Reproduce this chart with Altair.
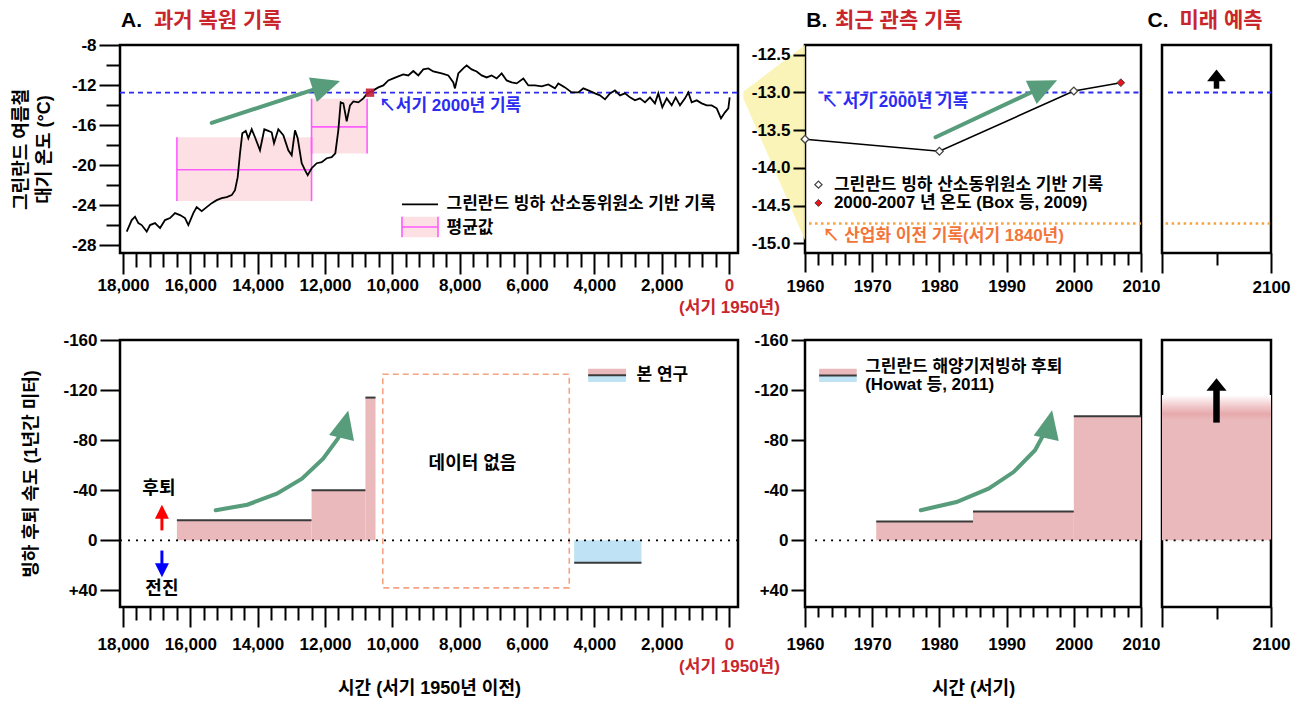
import altair as alt
import pandas as pd

FONT = "Liberation Sans, Noto Sans CJK KR"
RED = "#c8262c"
GREEN = "#579c7b"
PINK_LIGHT = "#fde0e3"
MAGENTA = "#ff5cff"
PINK = "#eab9bb"
SKY = "#bfe3f4"
BLUE = "#2b2bf2"
ORANGE = "#f9a23c"
ORANGE_TEXT = "#f2753a"
YELLOW = "#faf2ab"
SALMON = "#f6a383"

# ---------------- Panel A (top): Greenland summer temperature, years BP ----------------
temp_year = [17890, 17742, 17644, 17545, 17446, 17296, 17198, 17050, 16900, 16753, 16604,
             16456, 16307, 16159, 16060, 15912, 15812, 15663, 15514, 15366, 15217, 15069,
             14920, 14772, 14674, 14594, 14525, 14457, 14355, 14278, 14178, 14080, 13932,
             13803, 13685, 13585, 13515, 13387, 13239, 13090, 12990, 12892, 12812, 12693,
             12595, 12515, 12396, 12247, 12099, 11950, 11802, 11694, 11605, 11535, 11455,
             11356, 11258, 11158, 11010, 10862, 10743, 10614, 10416, 10268, 10120, 9972,
             9824, 9675, 9527, 9378, 9229, 9081, 8932, 8784, 8535, 8337, 8189, 8140, 8041,
             7893, 7793, 7644, 7496, 7347, 7199, 7050, 6901, 6753, 6604, 6456, 6307, 6109,
             5961, 5763, 5565, 5367, 5170, 5070, 4872, 4674, 4476, 4327, 4180, 3980, 3833,
             3684, 3536, 3387, 3239, 3090, 2942, 2793, 2645, 2496, 2348, 2200, 2100, 1981,
             1850, 1703, 1584, 1456, 1307, 1208, 1109, 960, 811, 663, 514, 366, 238, 119,
             20, -20]
temp_c = [-26.66, -25.5, -25.16, -25.8, -26.0, -26.66, -26.0, -25.8, -26.3, -25.5, -25.3,
          -24.8, -25.0, -25.3, -26.0, -24.8, -24.2, -24.6, -24.2, -23.8, -23.5, -23.3,
          -23.2, -23.0, -22.5, -21.2, -18.8, -16.8, -16.56, -17.3, -16.4, -17.2, -18.5,
          -16.4, -16.56, -16.7, -17.8, -16.4, -17.0, -18.5, -19.0, -16.5, -17.3, -19.8,
          -20.5, -21.0, -20.3, -19.8, -19.7, -19.3, -19.2, -18.8, -16.5, -13.7, -13.8,
          -15.6, -14.0, -13.6, -13.7, -13.3, -12.8, -12.6, -12.2, -12.0, -11.5, -11.3,
          -11.1, -10.9, -11.0, -10.56, -11.0, -10.4, -10.3, -10.6, -10.8, -11.0, -11.7, -12.3, -10.8,
          -10.3, -10.0, -10.4, -10.6, -11.0, -11.2, -11.0, -11.3, -10.8, -11.5, -11.7, -11.8, -11.3,
          -12.0, -12.0, -12.1, -11.9, -12.3, -11.8, -12.2, -12.7, -12.7, -12.3, -12.5, -12.8, -13.0,
          -13.4, -12.8, -12.5, -13.0, -12.8, -13.2, -13.5, -13.3, -13.7, -13.2, -13.8, -12.8, -14.2,
          -13.3, -14.0, -13.2, -14.0, -13.3, -12.7, -13.7, -13.5, -13.8, -14.0, -14.0, -14.3, -15.3, -14.7,
          -14.3, -13.2]

box_start = [16400, 12400]
box_end = [12400, 10750]
box_high = [-17.2, -13.33]
box_low = [-23.6, -18.83]
box_mean = [-20.46, -16.16]
record_2000_a = [-12.73]
marker_year = [10664]

# ---------------- Panel B (top): recent observations ----------------
obs_year = [1960, 1980, 2000]
obs_temp = [-13.62, -13.78, -12.98]
box09_year = [2007]
box09_temp = [-12.87]
record_2000_b = [-13.0]
preindustrial = [-14.74]
conn_year = [1950.83, 1960]
conn_top = [-12.987, -12.37]
conn_bottom = [-13.08, -14.96]

# ---------------- Panel A (bottom): retreat rates, m/yr (negative = retreat) ----------------
ret_start = [16400, 12400, 10800]
ret_end = [12400, 10800, 10500]
ret_rate = [-16, -40, -114]
adv_start = [4600]
adv_end = [2600]
adv_rate = [18]
nodata_x = [10284]
nodata_x2 = [4745]
nodata_y = [-132.6]
nodata_y2 = [38]

# ---------------- Panel B (bottom): Howat et al. 2011 ----------------
how_start = [1970.6, 1985, 2000]
how_end = [1985, 2000, 2010]
how_rate = [-15, -23, -99]

# ---------------- Panel C (bottom): projection ----------------
future_rate = [-116]

# scales (one object per panel so each panel knows its axes)
def sc(dom, rev=False):
    return alt.Scale(domain=dom, zero=False, nice=False, reverse=rev)

SX_AT = sc([18090, -267]); SY_AT = sc([-28.8, -7.95])
SX_AB = sc([18090, -267]); SY_AB = sc([-160, 53.3], True)
SX_BT = sc([1960, 2010]); SY_BT = sc([-15.13, -12.37])
SX_BB = sc([1960, 2010]); SY_BB = sc([-160, 53.3], True)
SX_CT = sc([2010, 2100]); SY_CT = sc([-15.13, -12.37])
SX_CB = sc([2010, 2100]); SY_CB = sc([-160, 53.3], True)

W_A, W_B, W_C = 618, 336, 109
H_T, H_B = 208, 267
TITLE_SIZE = 21

HEAD = "M1,0L-1,-0.9L-1,0.9Z"
UPHEAD = "M0,-1L1.6,1L-1.6,1Z"


def common(**kw):
    d = dict(domain=False, grid=False, tickColor="black", tickWidth=2,
             labelFont=FONT, labelFontSize=17, labelFontWeight="bold",
             labelPadding=3, labelOverlap=False, labelFlush=False,
             titleFont=FONT, titleFontSize=17, titleFontWeight="bold", titleColor="black")
    d.update(kw)
    if "labelColor" not in d:
        d["labelColor"] = "black"
    return alt.Axis(**d)


AXES = {}
LBL_A = "datum.value === 0 ? ['0', '(서기 1950년)'] : (datum.value % 2000 === 0 ? format(datum.value, ',') : '')"
AXES[id(SX_AT)] = common(
    values=list(range(0, 18001, 400)), labelExpr=LBL_A,
    tickSize={"condition": {"test": "datum.value % 2000 === 0", "value": 21}, "value": 14},
    labelColor={"condition": {"test": "datum.value === 0", "value": RED}, "value": "black"},
    labelLineHeight=22, title=None)
AXES[id(SX_AB)] = common(
    values=list(range(0, 18001, 400)), labelExpr=LBL_A,
    tickSize={"condition": {"test": "datum.value % 2000 === 0", "value": 20}, "value": 13},
    labelColor={"condition": {"test": "datum.value === 0", "value": RED}, "value": "black"},
    labelLineHeight=22, labelPadding=9, title="시간 (서기 1950년 이전)", titlePadding=10,
    minExtent=62, maxExtent=62, titleFontSize=18)
AXES[id(SY_AT)] = common(
    values=list(range(-28, -7, 2)),
    labelExpr="datum.value % 4 === 0 ? '' + datum.value : ''",
    tickSize={"condition": {"test": "datum.value % 4 === 0", "value": 21}, "value": 14},
    title=["그린란드 여름철", "대기 온도 (°C)"], titleLineHeight=23, titlePadding=17,
    minExtent=50, maxExtent=50, titleFontSize=18)
AXES[id(SY_AB)] = common(
    values=[-160, -120, -80, -40, 0, 40],
    labelExpr="datum.value > 0 ? '+' + datum.value : '' + datum.value",
    tickSize=20, title="빙하 후퇴 속도 (1년간 미터)", titlePadding=30,
    minExtent=50, maxExtent=50, titleFontSize=18)
LBL_B = "datum.value % 10 === 0 ? '' + datum.value : ''"
AXES[id(SX_BT)] = common(
    values=list(range(1960, 2011, 2)), labelExpr=LBL_B, labelPadding=6,
    tickSize={"condition": {"test": "datum.value % 10 === 0", "value": 19}, "value": 12},
    title=None)
AXES[id(SX_BB)] = common(
    values=list(range(1960, 2011, 2)), labelExpr=LBL_B, labelPadding=9,
    tickSize={"condition": {"test": "datum.value % 10 === 0", "value": 20}, "value": 10},
    title="시간 (서기)", titlePadding=10, minExtent=62, maxExtent=62, titleFontSize=18)
AXES[id(SY_BT)] = common(
    values=[-15.0, -14.5, -14.0, -13.5, -13.0, -12.5],
    labelExpr="datum.value % 1 === 0 ? datum.value + '.0' : '' + datum.value",
    tickSize=12, title=None, zindex=1)
AXES[id(SY_BB)] = common(
    values=[-160, -120, -80, -40, 0, 40],
    labelExpr="datum.value > 0 ? '+' + datum.value : '' + datum.value",
    tickSize=14, title=None, zindex=1)
AXES[id(SX_CT)] = common(
    values=[2010, 2055, 2100], labelPadding=6,
    labelExpr="datum.value === 2100 ? '2100' : ''",
    tickSize={"condition": {"test": "datum.value === 2055", "value": 12}, "value": 20},
    title=None)
AXES[id(SX_CB)] = common(
    values=[2010, 2055, 2100], labelPadding=9,
    labelExpr="datum.value === 2100 ? '2100' : ''",
    tickSize={"condition": {"test": "datum.value === 2055", "value": 12}, "value": 20},
    title=None)
AXES[id(SY_CT)] = None
AXES[id(SY_CB)] = None


def ch(data, sx, sy, xf="x", yf="y"):
    return alt.Chart(pd.DataFrame(data)).encode(
        x=alt.X(f"{xf}:Q", scale=sx, axis=AXES[id(sx)]),
        y=alt.Y(f"{yf}:Q", scale=sy, axis=AXES[id(sy)]))


def texts(xs, ys, ts, sx, sy, color="black", size=17, align="left"):
    return ch({"x": xs, "y": ys, "t": ts}, sx, sy).mark_text(
        align=align, baseline="middle", font=FONT, fontSize=size,
        fontWeight="bold", color=color).encode(text="t:N")


def hline(x1, x2, y, sx, sy, color, width, dash=None):
    kw = dict(color=color, strokeWidth=width)
    if dash:
        kw["strokeDash"] = dash
    return ch({"x": x1, "x2": x2, "y": y}, sx, sy).mark_rule(**kw).encode(x2="x2:Q")


def vline(x, y1, y2, sx, sy, color, width):
    return ch({"x": x, "y": y1, "y2": y2}, sx, sy).mark_rule(
        color=color, strokeWidth=width).encode(y2="y2:Q")


def rects(x1, x2, y1, y2, sx, sy, **kw):
    return ch({"x": x1, "x2": x2, "y": y1, "y2": y2}, sx, sy).mark_rect(**kw).encode(
        x2="x2:Q", y2="y2:Q")


def path(xs, ys, sx, sy, color, width):
    return ch({"x": xs, "y": ys, "o": list(range(len(xs)))}, sx, sy).mark_line(
        color=color, strokeWidth=width, strokeCap="round").encode(order="o:Q")


def head(x, y, ang, sx, sy, color, size, shape=HEAD):
    return ch({"x": [x], "y": [y], "a": [ang]}, sx, sy).mark_point(
        shape=shape, filled=True, size=size, color=color, opacity=1, strokeWidth=0
    ).encode(angle=alt.Angle("a:Q", scale=None))


# ---------------- Panel A top ----------------
sx, sy = SX_AT, SY_AT
A_top = alt.layer(
    rects(box_start, box_end, box_high, box_low, sx, sy, color=PINK_LIGHT),
    hline(box_start, box_end, box_mean, sx, sy, MAGENTA, 1.6),
    vline(box_start + box_end, box_high + box_high, box_low + box_low, sx, sy, MAGENTA, 1.6),
    hline([18090], [-267], record_2000_a, sx, sy, BLUE, 1.8, [5, 4]),
    ch({"x": temp_year, "y": temp_c}, sx, sy).mark_line(color="black", strokeWidth=1.8),
    ch({"x": marker_year, "y": record_2000_a}, sx, sy).mark_point(
        shape="square", filled=True, size=70, color="#c41e3a", opacity=0.9),
    path([15366, 11956], [-15.76, -12.0], sx, sy, GREEN, 4),
    head(11956, -12.0, 342, sx, sy, GREEN, 812),
    texts([10403], [-14.1], ["↖서기 2000년 기록"], sx, sy, BLUE, 17),
    rects([9714], [8644], [-25.16], [-27.23], sx, sy, color=PINK_LIGHT),
    hline([9714], [8644], [-26.2], sx, sy, MAGENTA, 1.6),
    vline([9714, 8644], [-25.16, -25.16], [-27.23, -27.23], sx, sy, MAGENTA, 1.6),
    hline([9714], [8644], [-23.93], sx, sy, "black", 1.6),
    texts([8392, 8392], [-23.93, -26.26], ["그린란드 빙하 산소동위원소 기반 기록", "평균값"],
          sx, sy, "black", 17),
    texts([18059], [-5.58], ["A."], sx, sy, "black", TITLE_SIZE),
    texts([17079], [-5.58], ["과거 복원 기록"], sx, sy, RED, TITLE_SIZE),
).properties(width=W_A, height=H_T)

# ---------------- Panel B top ----------------
sx, sy = SX_BT, SY_BT
B_top = alt.layer(
    ch({"x": conn_year, "y": conn_top, "y2": conn_bottom}, sx, sy).mark_area(
        color=YELLOW, opacity=0.85).encode(y2="y2:Q"),
    hline([1962], [2010], record_2000_b, sx, sy, BLUE, 1.8, [5, 4]),
    hline([1960.6], [2010], preindustrial, sx, sy, ORANGE, 2.5, [2.5, 3.5]),
    ch({"x": obs_year + box09_year, "y": obs_temp + box09_temp}, sx, sy).mark_line(
        color="black", strokeWidth=1.6),
    path([1979.42, 1995.59], [-13.594, -12.918], sx, sy, GREEN, 4),
    head(1995.59, -12.918, 335, sx, sy, GREEN, 812),
    ch({"x": obs_year, "y": obs_temp}, sx, sy).mark_point(
        shape="diamond", filled=True, fill="white", stroke="#444", strokeWidth=1.3, size=60, opacity=1),
    ch({"x": box09_year, "y": box09_temp}, sx, sy).mark_point(
        shape="diamond", filled=True, fill="#e8141b", stroke="#444", strokeWidth=1.0, size=60, opacity=1),
    ch({"x": [1962.0], "y": [-14.223]}, sx, sy).mark_point(
        shape="diamond", filled=True, fill="white", stroke="#444", strokeWidth=1.3, size=50, opacity=1),
    ch({"x": [1962.0], "y": [-14.466]}, sx, sy).mark_point(
        shape="diamond", filled=True, fill="#e8141b", stroke="#444", strokeWidth=1.0, size=50, opacity=1),
    texts([1964.3, 1964.3], [-14.223, -14.466],
          ["그린란드 빙하 산소동위원소 기반 기록", "2000-2007 년 온도 (Box 등, 2009)"],
          sx, sy, "black", 17),
    texts([1962.4], [-13.13], ["↖ 서기 2000년 기록"], sx, sy, BLUE, 17),
    texts([1962.6], [-14.908], ["↖ 산업화 이전 기록(서기 1840년)"], sx, sy, ORANGE_TEXT, 17),
    texts([1960.2], [-12.045], ["B."], sx, sy, "black", TITLE_SIZE),
    texts([1964.48], [-12.045], ["최근 관측 기록"], sx, sy, RED, TITLE_SIZE),
).properties(width=W_B, height=H_T)

# ---------------- Panel C top ----------------
sx, sy = SX_CT, SY_CT
C_top = alt.layer(
    hline([2015], [2100], record_2000_b, sx, sy, BLUE, 1.8, [5, 4]),
    hline([2013], [2100], preindustrial, sx, sy, ORANGE, 2.5, [2.5, 3.5]),
    ch({"x": [2055, 2055], "y": [-12.95, -12.78]}, sx, sy).mark_line(color="black", strokeWidth=5.5),
    head(2055, -12.774, 0, sx, sy, "black", 137, UPHEAD),
    texts([1998.0], [-12.045], ["C."], sx, sy, "black", TITLE_SIZE),
    texts([2024.45], [-12.045], ["미래 예측"], sx, sy, RED, TITLE_SIZE),
).properties(width=W_C, height=H_T)

# ---------------- Panel A bottom ----------------
sx, sy = SX_AB, SY_AB
A_bot = alt.layer(
    rects(ret_start, ret_end, [0, 0, 0], ret_rate, sx, sy, color=PINK),
    rects(adv_start, adv_end, [0], adv_rate, sx, sy, color=SKY),
    hline(ret_start + adv_start, ret_end + adv_end, ret_rate + adv_rate, sx, sy, "#3a3a3a", 2),
    rects(nodata_x, nodata_x2, nodata_y, nodata_y2, sx, sy,
          fillOpacity=0, stroke=SALMON, strokeWidth=1.6, strokeDash=[6, 4]),
    hline([18090], [-267], [0], sx, sy, "black", 1.8, [2, 6]),
    path([15247, 14308, 13432, 12684, 12057, 11620, 11410],
         [-23.95, -28.4, -37.2, -49.2, -65.2, -81.1, -92.7], sx, sy, GREEN, 4),
    head(11410, -92.7, 283.65, sx, sy, GREEN, 812),
    texts([7620], [-61.2], ["데이터 없음"], sx, sy, "black", 18, "center"),
    texts([16934], [-41.2], ["후퇴"], sx, sy, "black", 18, "center"),
    texts([16845], [38.7], ["전진"], sx, sy, "black", 18, "center"),
    ch({"x": [16845, 16845], "y": [-7.9, -22.8]}, sx, sy).mark_line(color="#ff0000", strokeWidth=3),
    head(16845, -22.8, 0, sx, sy, "#ff0000", 196, "M0,-1L1,1L-1,1Z"),
    ch({"x": [16845, 16845], "y": [8.2, 24.0]}, sx, sy).mark_line(color="#0000ff", strokeWidth=3),
    head(16845, 24.0, 180, sx, sy, "#0000ff", 196, "M0,-1L1,1L-1,1Z"),
    rects([4184], [3058], [-137.1], [-131.8], sx, sy, color=PINK),
    rects([4184], [3058], [-131.8], [-126.4], sx, sy, color=SKY),
    hline([4184], [3058], [-131.8], sx, sy, "#3a3a3a", 2),
    texts([2746], [-131.8], ["본 연구"], sx, sy, "black", 17),
).properties(width=W_A, height=H_B)

# ---------------- Panel B bottom ----------------
sx, sy = SX_BB, SY_BB
B_bot = alt.layer(
    rects(how_start, how_end, [0, 0, 0], how_rate, sx, sy, color=PINK),
    hline(how_start, how_end, how_rate, sx, sy, "#3a3a3a", 2),
    hline([1961.5], [2010], [0], sx, sy, "black", 1.8, [2, 6]),
    path([1977.23, 1982.54, 1987.31, 1991.03, 1994.23, 1996.33],
         [-23.95, -30.6, -41.2, -54.5, -71.9, -92.65], sx, sy, GREEN, 4),
    head(1996.33, -92.65, 281.9, sx, sy, GREEN, 812),
    rects([1962.1], [1967.7], [-137.1], [-131.6], sx, sy, color=PINK),
    rects([1962.1], [1967.7], [-131.6], [-126.4], sx, sy, color=SKY),
    hline([1962.1], [1967.7], [-131.6], sx, sy, "#3a3a3a", 2),
    texts([1968.95, 1968.95], [-138.4, -124.05], ["그린란드 해양기저빙하 후퇴", "(Howat 등, 2011)"],
          sx, sy, "black", 17),
).properties(width=W_B, height=H_B)

# ---------------- Panel C bottom ----------------
sx, sy = SX_CB, SY_CB
grad = {"gradient": "linear", "x1": 0, "y1": 1, "x2": 0, "y2": 0,
        "stops": [{"offset": 0, "color": PINK}, {"offset": 0.83, "color": PINK},
                  {"offset": 0.87, "color": "#e6a9ac"}, {"offset": 0.93, "color": "#f2cdcf"},
                  {"offset": 1, "color": "#ffffff"}]}
C_bot = alt.layer(
    rects([2010], [2100], [0], future_rate, sx, sy, color=grad),
    hline([2013], [2100], [0], sx, sy, "black", 1.8, [2, 6]),
    ch({"x": [2055, 2055], "y": [-94, -124]}, sx, sy).mark_line(color="black", strokeWidth=6.5),
    head(2055, -124.4, 0, sx, sy, "black", 159, UPHEAD),
).properties(width=W_C, height=H_B)

colA = alt.vconcat(A_top, A_bot, spacing=87, bounds="flush")
colB = alt.vconcat(B_top, B_bot, spacing=87, bounds="flush")
colC = alt.vconcat(C_top, C_bot, spacing=87, bounds="flush")

chart = alt.hconcat(colA, alt.hconcat(colB, colC, spacing=-20.5), spacing=-39).properties(
    padding={"left": 2, "top": 0, "right": 2, "bottom": 2}
).configure_view(stroke="black", strokeWidth=2.5)

chart.save("out.html", embed_options={"renderer": "svg", "actions": False})
